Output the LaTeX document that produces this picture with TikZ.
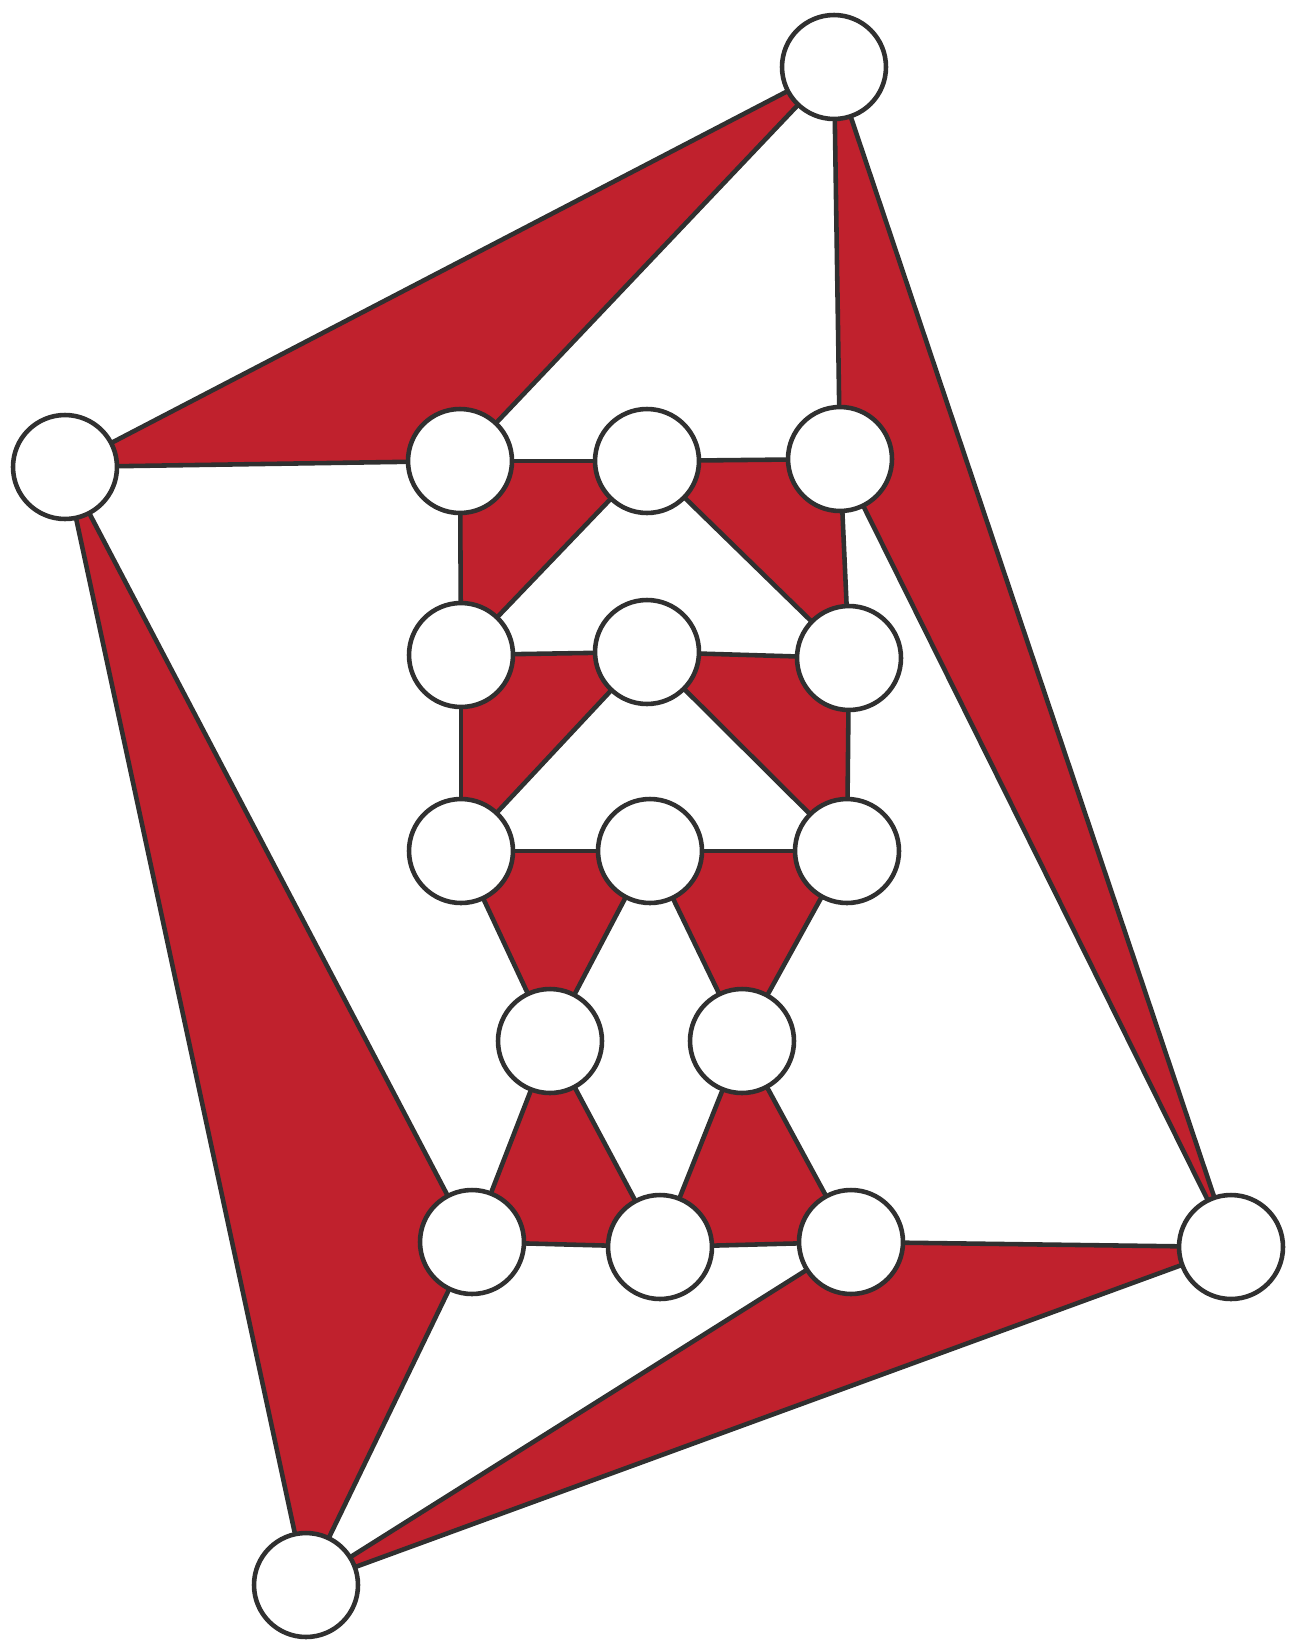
\documentclass[tikz,border=0pt]{standalone}
\usepackage{xcolor}
\usepackage{tikz}
\usetikzlibrary{backgrounds}
\definecolor{facered}{RGB}{192, 33, 45}
\definecolor{inkgray}{RGB}{48, 48, 48}

\begin{document}
\begin{tikzpicture}[
          x=0.02cm, y=-0.02cm,
          vertex/.style={circle, draw=inkgray, fill=white, line width=2.6pt, minimum size=2.08cm, inner sep=0pt},
          face/.style={fill=facered},
          edge/.style={draw=inkgray, line width=2.6pt, line cap=round}
        ]
          \useasboundingbox (0,0) rectangle (1289,1643);

          % Outer four vertices
          \node[vertex] (T) at (834, 67) {};
          \node[vertex] (L) at (65, 467) {};
          \node[vertex] (R) at (1231, 1247) {};
          \node[vertex] (B) at (306, 1585) {};

          % Inner ladder
          \node[vertex] (a1) at (460, 461) {};
          \node[vertex] (a2) at (647, 461) {};
          \node[vertex] (a3) at (840, 459) {};
          \node[vertex] (b1) at (461, 655) {};
          \node[vertex] (b2) at (647, 652) {};
          \node[vertex] (b3) at (849, 658) {};
          \node[vertex] (c1) at (461, 851) {};
          \node[vertex] (c2) at (650, 851) {};
          \node[vertex] (c3) at (847, 851) {};
          \node[vertex] (d1) at (550, 1041) {};
          \node[vertex] (d2) at (742, 1041) {};
          \node[vertex] (e1) at (472, 1242) {};
          \node[vertex] (e2) at (660, 1247) {};
          \node[vertex] (e3) at (851, 1242) {};

          \begin{pgfonlayer}{background}
          % Red faces
          \fill[face] (L.center) -- (T.center) -- (a1.center) -- cycle;
          \fill[face] (T.center) -- (a3.center) -- (R.center) -- cycle;
          \fill[face] (R.center) -- (e3.center) -- (B.center) -- cycle;
          \fill[face] (L.center) -- (e1.center) -- (B.center) -- cycle;
          \fill[face] (a1.center) -- (a2.center) -- (b1.center) -- cycle;
          \fill[face] (a2.center) -- (a3.center) -- (b3.center) -- cycle;
          \fill[face] (b1.center) -- (b2.center) -- (c1.center) -- cycle;
          \fill[face] (b2.center) -- (b3.center) -- (c3.center) -- cycle;
          \fill[face] (c1.center) -- (c2.center) -- (d1.center) -- cycle;
          \fill[face] (c2.center) -- (c3.center) -- (d2.center) -- cycle;
          \fill[face] (d1.center) -- (e1.center) -- (e2.center) -- cycle;
          \fill[face] (d2.center) -- (e2.center) -- (e3.center) -- cycle;

          % Outer edges
          \draw[edge] (L) -- (T);
          \draw[edge] (T) -- (a1);
          \draw[edge] (L) -- (a1);
          \draw[edge] (T) -- (a3);
          \draw[edge] (T) -- (R);
          \draw[edge] (a3) -- (R);
          \draw[edge] (R) -- (e3);
          \draw[edge] (R) -- (B);
          \draw[edge] (e3) -- (B);
          \draw[edge] (L) -- (B);
          \draw[edge] (L) -- (e1);
          \draw[edge] (e1) -- (B);

          % Inner edges
          \draw[edge] (a1) -- (a2);
          \draw[edge] (a2) -- (a3);
          \draw[edge] (a1) -- (b1);
          \draw[edge] (a2) -- (b1);
          \draw[edge] (a2) -- (b3);
          \draw[edge] (a3) -- (b3);
          \draw[edge] (b1) -- (b2);
          \draw[edge] (b2) -- (b3);
          \draw[edge] (b1) -- (c1);
          \draw[edge] (b2) -- (c1);
          \draw[edge] (b2) -- (c3);
          \draw[edge] (b3) -- (c3);
          \draw[edge] (c1) -- (c2);
          \draw[edge] (c2) -- (c3);
          \draw[edge] (c1) -- (d1);
          \draw[edge] (c2) -- (d1);
          \draw[edge] (c2) -- (d2);
          \draw[edge] (c3) -- (d2);
          \draw[edge] (d1) -- (e1);
          \draw[edge] (d1) -- (e2);
          \draw[edge] (d2) -- (e2);
          \draw[edge] (d2) -- (e3);
          \draw[edge] (e1) -- (e2);
          \draw[edge] (e2) -- (e3);
          \end{pgfonlayer}
        \end{tikzpicture}
\end{document}
